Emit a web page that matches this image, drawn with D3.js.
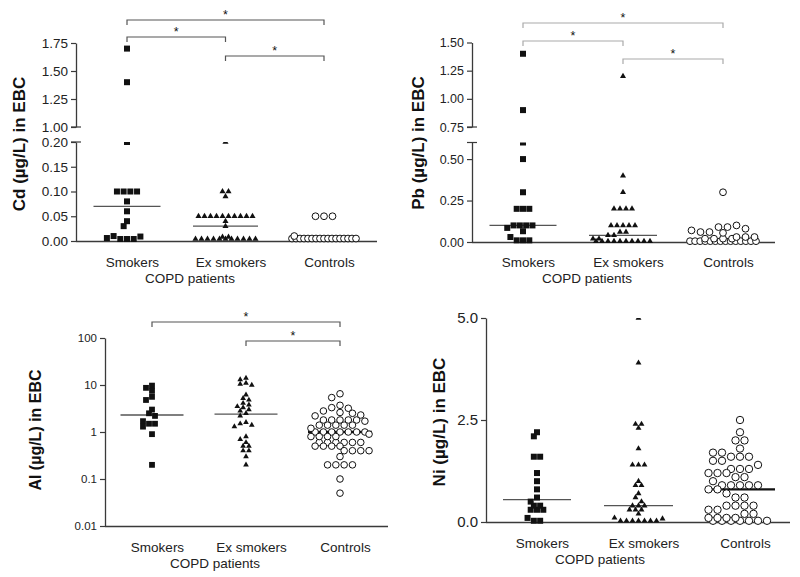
<!DOCTYPE html>
<html><head><meta charset="utf-8">
<script src="https://cdn.jsdelivr.net/npm/d3@7"></script>
<style>body{margin:0;background:#fff} svg{display:block}</style>
</head><body><svg id="c" width="800" height="577"></svg>
<script>
// ---------- DATA ----------
const groups = ["Smokers", "Ex smokers", "Controls"];
const xTitle = "COPD patients";

const cdSmokers   = [1.7, 1.4, 0.2, 0.1, 0.1, 0.1, 0.1, 0.08, 0.06, 0.04, 0.03, 0.01, 0.009, 0.006, 0.004, 0.004, 0.004];
const cdExSmokers = [0.2, 0.1, 0.1, 0.09, 0.05, 0.05, 0.05, 0.05, 0.05, 0.05, 0.05, 0.05, 0.05, 0.05, 0.04, 0.03,
                     0.004, 0.004, 0.004, 0.004, 0.004, 0.004, 0.004, 0.004, 0.004, 0.004, 0.004, 0.008, 0.008];
const cdControls  = [0.05, 0.05, 0.05, 0.01, 0.005, 0.005, 0.005, 0.005, 0.005, 0.005, 0.005, 0.005, 0.005,
                     0.005, 0.005, 0.005, 0.005, 0.005, 0.005, 0.005, 0.005];
const cdMedians   = [0.07, 0.03, 0.005];
const cdTicksLow  = [0, 0.05, 0.10, 0.15, 0.20];
const cdTicksHigh = [1.00, 1.25, 1.50, 1.75];

const pbSmokers   = [1.4, 0.9, 0.6, 0.5, 0.3, 0.2, 0.2, 0.2, 0.1, 0.1, 0.1, 0.1, 0.085, 0.065, 0.03, 0.01, 0.01, 0.01];
const pbExSmokers = [1.2, 0.4, 0.3, 0.2, 0.2, 0.2, 0.2, 0.1, 0.1, 0.1, 0.1, 0.1, 0.06, 0.06, 0.04, 0.04, 0.02, 0.02,
                     0.005, 0.005, 0.005, 0.005, 0.005, 0.005, 0.005, 0.005, 0.005, 0.005];
const pbControls  = [0.3, 0.1, 0.09, 0.09, 0.08, 0.07, 0.06, 0.06, 0.055, 0.03, 0.03, 0.03, 0.02, 0.02, 0.02, 0.02,
                     0.005, 0.005, 0.005, 0.005, 0.005, 0.005, 0.005, 0.005, 0.005, 0.005, 0.005, 0.005, 0.005, 0.005];
const pbMedians   = [0.1, 0.04, 0.01];
const pbTicksLow  = [0, 0.25, 0.50];
const pbTicksHigh = [0.75, 1.00, 1.25, 1.50];

const alSmokers   = [9.7, 8.7, 7.5, 5.6, 4.8, 3.0, 2.5, 2.2, 1.7, 1.5, 1.5, 1.3, 0.9, 0.2];
const alExSmokers = [14, 13, 11, 10.5, 10, 6.2, 5.2, 4.8, 4.1, 3.8, 3.5, 3.3, 3.0, 2.8, 2.5, 2.2, 1.6, 1.5, 1.4, 1.3,
                     0.8, 0.7, 0.6, 0.5, 0.5, 0.4, 0.4, 0.3, 0.2];
const alControls  = [6.5, 5.4, 3.7, 3.3, 3.2, 2.8, 2.6, 2.5, 2.3, 2.2, 1.8, 1.8, 1.8, 1.8, 1.8, 1.7, 1.4, 1.4, 1.4, 1.4, 1.4,
                     1.2, 1.0, 1.0, 1.0, 1.0, 1.0, 1.0, 1.0, 0.9, 0.8, 0.8, 0.8, 0.8, 0.6, 0.6, 0.6, 0.6, 0.6, 0.6,
                     0.5, 0.5, 0.5, 0.5, 0.4, 0.4, 0.4, 0.4, 0.3, 0.2, 0.2, 0.2, 0.2, 0.1, 0.05];
const alMedians   = [2.3, 2.4, 1.0];
const alTicks     = [0.01, 0.1, 1, 10, 100];

const niSmokers   = [2.2, 2.1, 1.6, 1.6, 1.2, 1.0, 0.8, 0.6, 0.5, 0.4, 0.4, 0.3, 0.3, 0.3, 0.1, 0.03, 0.03];
const niExSmokers = [5.0, 3.9, 2.4, 2.4, 2.3, 1.8, 1.4, 1.4, 1.4, 1.0, 0.9, 0.9, 0.7, 0.6, 0.5, 0.4, 0.4, 0.4,
                     0.3, 0.3, 0.3, 0.2, 0.1, 0.08, 0.03, 0.03, 0.03, 0.03, 0.03, 0.03, 0.03];
const niControls  = [2.5, 2.2, 2.0, 2.0, 1.8, 1.7, 1.7, 1.6, 1.6, 1.6, 1.5, 1.5, 1.4, 1.3, 1.3, 1.3, 1.2, 1.2, 1.2,
                     1.1, 1.1, 1.0, 0.9, 0.9, 0.9, 0.9, 0.9, 0.8, 0.8, 0.7, 0.6, 0.6, 0.4, 0.4, 0.4, 0.4, 0.3, 0.3,
                     0.2, 0.2, 0.1, 0.1, 0.1, 0.1, 0.03, 0.03, 0.03, 0.03, 0.03, 0.03, 0.03];
const niMedians   = [0.55, 0.4, 0.8];
const niTicks     = [0, 2.5, 5.0];

// significance comparisons (group index pairs)
const cdSig = [[0, 2], [0, 1], [1, 2]];
const pbSig = [[0, 2], [0, 1], [1, 2]];
const alSig = [[0, 2], [1, 2]];
const niSig = [];

// ---------- DRAWING ----------
const FONT = "'Liberation Sans', Arial, Helvetica, sans-serif";
const INK = "#111";
const AXIS = "#3a3a3a";
const svg = d3.select("#c");
const defs = svg.append("defs");

function brokenScale(lowDom, lowRange, highDom, highRange) {
  const lo = d3.scaleLinear().domain(lowDom).range(lowRange);
  const hi = d3.scaleLinear().domain(highDom).range(highRange);
  const f = v => (v <= lowDom[1] + 1e-9 ? lo(v) : hi(v));
  f.lo = lo; f.hi = hi; f.lowMax = lowDom[1];
  return f;
}

// beeswarm-like placement: equal values form centred rows
function swarm(values, yScale, d, maxHalf) {
  const rows = d3.rollups(values, v => v.length, v => v)
    .sort((a, b) => b[1] - a[1] || b[0] - a[0]);
  const placed = [];
  const thr = 0.75 * d, h = d / 2;
  rows.forEach(([v, n]) => {
    const y = yScale(v);
    let sp = d;
    if ((n - 1) * d > 2 * maxHalf) sp = 2 * maxHalf / (n - 1);
    const base = i => (i - (n - 1) / 2) * sp;
    let best = null, bestPen = Infinity;
    for (let k = 0; k <= 40; k++) {
      const s = (k % 2 === 1 ? -1 : 1) * Math.ceil(k / 2) * h;
      if (base(0) + s < -maxHalf - 0.01 || base(n - 1) + s > maxHalf + 0.01) continue;
      let pen = 0;
      for (let i = 0; i < n; i++) {
        for (const p of placed) {
          const dist = Math.hypot(base(i) + s - p.dx, y - p.y);
          if (dist < thr) pen += thr - dist;
        }
      }
      if (pen === 0) { best = s; break; }
      if (pen < bestPen) { bestPen = pen; best = s; }
    }
    if (best === null) best = 0;
    for (let i = 0; i < n; i++) placed.push({ v, y, dx: base(i) + best });
  });
  return placed;
}

function drawPanel(p) {
  const g = svg.append("g");
  const x = d3.scalePoint().domain(groups).range([p.cx[0], p.cx[1]]);

  // y axes
  p.axes.forEach(ax => {
    const a = d3.axisLeft(ax.scale).tickValues(ax.ticks).tickFormat(ax.fmt)
      .tickSize(5).tickSizeOuter(0).tickPadding(3);
    const ag = g.append("g").attr("transform", `translate(${p.x0},0)`).call(a)
      .attr("font-family", FONT).attr("font-size", p.tickFont);
    ag.select(".domain").attr("stroke", AXIS).attr("stroke-width", 1.3);
    ag.selectAll(".tick line").attr("stroke", AXIS).attr("stroke-width", 1.2);
    ag.selectAll(".tick text").attr("fill", "#222");
    (ax.caps || []).forEach(v => {
      g.append("line").attr("x1", p.x0 - 5).attr("x2", p.x0 + 5)
        .attr("y1", ax.scale(v)).attr("y2", ax.scale(v))
        .attr("stroke", AXIS).attr("stroke-width", 1.2);
    });
  });
  // x axis line
  g.append("line").attr("x1", p.x0).attr("x2", p.x1)
    .attr("y1", p.bottom + 0.5).attr("y2", p.bottom + 0.5)
    .attr("stroke", AXIS).attr("stroke-width", 1.3);

  // category labels
  g.selectAll(".cat").data(groups).join("text")
    .attr("x", d => x(d) + 5.5).attr("y", p.catY)
    .attr("text-anchor", "middle").attr("font-family", FONT).attr("font-size", 13.5)
    .attr("fill", "#222").text(d => d);
  g.append("text").attr("x", p.titleX).attr("y", p.catY + 16)
    .attr("text-anchor", "middle").attr("font-family", FONT).attr("font-size", 13.5)
    .attr("fill", "#222").text(xTitle);

  // y title
  g.append("text").attr("transform", `translate(${p.yTitleX},${p.yTitleY}) rotate(-90)`)
    .attr("text-anchor", "middle").attr("dominant-baseline", "central")
    .attr("font-family", FONT).attr("font-weight", "bold").attr("font-size", p.yTitleFont)
    .attr("fill", "#111").text(p.yTitle);

  // clip for marks
  const clipId = "clip" + p.id;
  defs.append("clipPath").attr("id", clipId).append("rect")
    .attr("x", p.x0).attr("y", p.clipTop).attr("width", p.x1 - p.x0).attr("height", p.bottom + 12 - p.clipTop);

  // medians
  p.medians.forEach((m, i) => {
    const cx = x(groups[i]);
    g.append("line").attr("x1", cx - p.medW[i] / 2).attr("x2", cx + p.medW[i] / 2)
      .attr("y1", p.y(m)).attr("y2", p.y(m))
      .attr("stroke", i === 2 && p.thickCtrl ? "#111" : "#555")
      .attr("stroke-width", i === 2 && p.thickCtrl ? 2.4 : 1.3);
  });

  // points
  p.series.forEach((vals, i) => {
    const cx = x(groups[i]);
    const pts = swarm(vals, p.y, p.spacing[i], p.maxHalf);
    const low = g.append("g").attr("clip-path", `url(#${clipId})`);
    const high = g.append("g");
    pts.forEach(pt => {
      const tgt = (p.y.lowMax === undefined || pt.v <= p.y.lowMax + 1e-9) ? low : high;
      const px = cx + pt.dx, py = pt.y;
      if (i === 0) {
        const s = p.sq;
        tgt.append("rect").attr("x", px - s / 2).attr("y", py - s / 2).attr("width", s).attr("height", s).attr("fill", INK);
      } else if (i === 1) {
        tgt.append("path").attr("d", d3.symbol(d3.symbolTriangle, p.tri)())
          .attr("transform", `translate(${px},${py})`).attr("fill", INK);
      } else {
        tgt.append("circle").attr("cx", px).attr("cy", py).attr("r", p.cr)
          .attr("fill", "#fff").attr("stroke", INK).attr("stroke-width", 1);
      }
    });
  });

  // significance brackets
  p.sig.forEach(([a, b], k) => {
    const yb = p.sigY[k];
    const xa = x(groups[a]), xb = x(groups[b]);
    g.append("path").attr("d", `M${xa},${yb + 5}V${yb}H${xb}V${yb + 5}`)
      .attr("fill", "none").attr("stroke", p.sigColor).attr("stroke-width", 1.2);
    g.append("text").attr("x", (xa + xb) / 2).attr("y", yb - 1.5)
      .attr("text-anchor", "middle").attr("font-family", FONT).attr("font-size", 12.5)
      .attr("fill", "#111").text("*");
  });
}

const f2 = d3.format(".2f");

// Panel A: Cd
const cdY = brokenScale([0, 0.2], [241, 142], [1.0, 1.75], [127, 43]);
drawPanel({
  id: "cd", x0: 76, x1: 377, bottom: 241, cx: [127, 324], y: cdY,
  axes: [{ scale: cdY.lo, ticks: cdTicksLow, fmt: f2, caps: [0.2] },
         { scale: cdY.hi, ticks: cdTicksHigh, fmt: f2, caps: [1.0] }],
  tickFont: 13.5, catY: 267, titleX: 190, yTitle: "Cd (µg/L) in EBC", yTitleX: 19, yTitleY: 144, yTitleFont: 17,
  clipTop: 142, medians: cdMedians, medW: [67, 65, 66], thickCtrl: false,
  series: [cdSmokers, cdExSmokers, cdControls], spacing: [6.7, 6, 8.5], maxHalf: 32,
  sq: 6, tri: 16, cr: 3.4, sig: cdSig, sigY: [20, 37, 56], sigColor: "#555"
});

// Panel B: Pb
const pbY = brokenScale([0, 0.6], [242, 142.5], [0.75, 1.5], [127, 42.5]);
drawPanel({
  id: "pb", x0: 472, x1: 775, bottom: 242, cx: [523, 723], y: pbY,
  axes: [{ scale: pbY.lo, ticks: pbTicksLow, fmt: f2, caps: [0.6] },
         { scale: pbY.hi, ticks: pbTicksHigh, fmt: f2, caps: [0.75] }],
  tickFont: 12.5, catY: 267, titleX: 587, yTitle: "Pb (µg/L) in EBC", yTitleX: 418, yTitleY: 143, yTitleFont: 17,
  clipTop: 142.5, medians: pbMedians, medW: [67, 68, 66], thickCtrl: false,
  series: [pbSmokers, pbExSmokers, pbControls], spacing: [6.3, 6, 9], maxHalf: 33,
  sq: 6, tri: 16, cr: 3.4, sig: pbSig, sigY: [23, 41, 59], sigColor: "#aaa"
});

// Panel C: Al (log)
const alY = d3.scaleLog().domain([0.01, 100]).range([526, 338]);
drawPanel({
  id: "al", x0: 105, x1: 388, bottom: 526, cx: [152, 340], y: alY,
  axes: [{ scale: alY, ticks: alTicks, fmt: d3.format("~g") }],
  tickFont: 11.5, catY: 552, titleX: 215, yTitle: "Al (µg/L) in EBC", yTitleX: 35, yTitleY: 430, yTitleFont: 16,
  clipTop: 330, medians: alMedians, medW: [63, 63, 64], thickCtrl: true,
  series: [alSmokers, alExSmokers, alControls], spacing: [6, 5.8, 8.3], maxHalf: 30,
  sq: 5.8, tri: 14, cr: 3.3, sig: alSig, sigY: [322, 341], sigColor: "#555"
});

// Panel D: Ni
const niY = d3.scaleLinear().domain([0, 5]).range([522, 318]);
drawPanel({
  id: "ni", x0: 486, x1: 790, bottom: 522, cx: [537, 740], y: niY,
  axes: [{ scale: niY, ticks: niTicks, fmt: d3.format(".1f") }],
  tickFont: 15, catY: 548, titleX: 600, yTitle: "Ni (µg/L) in EBC", yTitleX: 439, yTitleY: 422, yTitleFont: 17,
  clipTop: 318, medians: niMedians, medW: [68, 69, 70], thickCtrl: true,
  series: [niSmokers, niExSmokers, niControls], spacing: [6.3, 6, 9], maxHalf: 33,
  sq: 6, tri: 15, cr: 3.7, sig: niSig, sigY: [], sigColor: "#555"
});
</script>
</body></html>
